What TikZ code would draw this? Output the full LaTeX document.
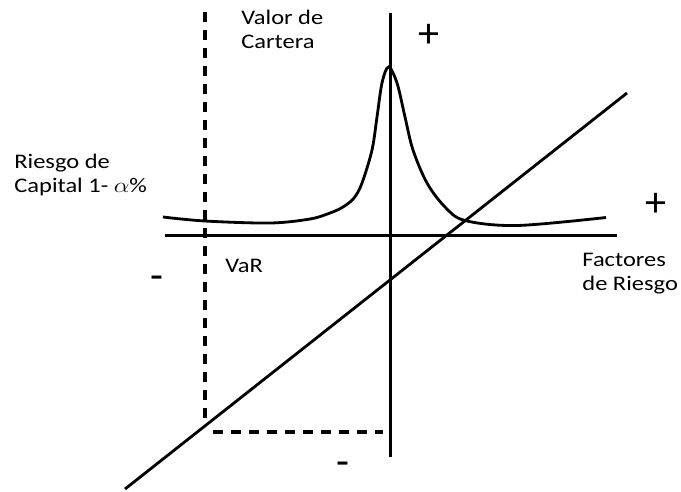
\documentclass[tikz,border=0pt]{standalone}
\usepackage{graphicx}
\usepackage{fontspec}
\setmainfont{Carlito}
\usetikzlibrary{calc}

\newcommand{\wide}[1]{\scalebox{1.18}[1]{#1}}

\begin{document}
\begin{tikzpicture}[x=0.2mm,y=-0.2mm,inner sep=0mm,line width=1.6pt,
	guide/.style={line width=1.8pt,dash pattern=on 2mm off 1.6mm},
	lbl/.style={anchor=base west,align=left,font=\fontsize{11.8}{13.4}\selectfont},
	sign/.style={font=\fontsize{24}{24}\selectfont}]
	
	\useasboundingbox (0,0) rectangle (681,491);
	
	\coordinate (h1) at (165,235.5);
	\coordinate (h2) at (617,235.5);
	\coordinate (v1) at (390.5,13);
	\coordinate (v2) at (390.5,457);
	\coordinate (d1) at (125,489);
	\coordinate (d2) at (627,93);
	\coordinate (q1) at (205,12);
	\coordinate (q2) at (205,418);
	\coordinate (p1) at (213,432);
	\coordinate (p2) at (383,432);
	
	\path
	(h1) edge (h2)
	(v1) edge (v2)
	(d1) edge (d2)
	;
	
	\path[guide]
	(q1) edge (q2)
	(p1) edge (p2)
	;
	
	% valor de la cartera
	\draw plot[smooth,tension=0.55] coordinates {(163,217) (205,221) (270,223) (310,219) (330,213)
		(343,207) (354,198) (362,183) (372,150) (377,117) (382,83) (388.5,67) (397,83) (405,117)
		(413,150) (427,183) (445,207) (465,220.5) (517,225.5) (606,217.5)};
	
	\node at (240,48) [lbl] (valor) {\wide{Valor de}\\\wide{Cartera}};
	\node at (13,192) [lbl] (riesgo) {\wide{Riesgo de}\\\wide{Capital 1- $\alpha$\%}};
	\node at (224,272.5) [lbl] (var) {\wide{VaR}};
	\node at (581,290) [lbl] (factores) {\wide{Factores}\\\wide{de Riesgo}};
	
	\node at (429,36) [sign] (mas1) {+};
	\node at (655.5,205) [sign] (mas2) {+};
	\node at (157,283) [sign] (menos1) {-};
	\node at (343,468.5) [sign] (menos2) {-};
	
\end{tikzpicture}
\end{document}
